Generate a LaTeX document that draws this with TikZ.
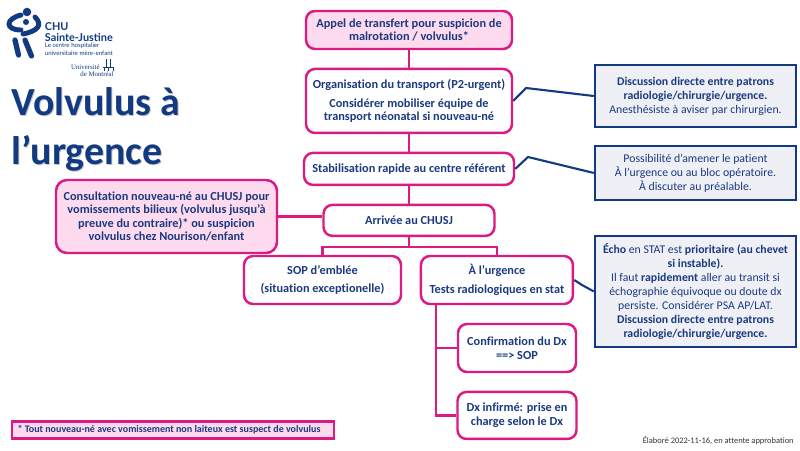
\documentclass[tikz,border=0pt]{standalone}
\usepackage{fontspec}
\setmainfont[Ligatures=NoCommon]{Carlito}
\newfontfamily\logofont{Lato}
\newfontfamily\udemfont{Liberation Serif}
\usetikzlibrary{positioning}
\definecolor{chupink}{HTML}{DC1A82}
\definecolor{chufill}{HTML}{FDDAEE}
\definecolor{chunavy}{HTML}{123A82}
\definecolor{chutext}{HTML}{1B3A80}
\definecolor{chugrey}{HTML}{EEF0F5}
\begin{document}
\begin{tikzpicture}[
    node distance=0.35cm,
    flow/.style={draw=chupink, line width=1.4pt, rounded corners=0.18cm, fill=white, align=center, inner sep=1pt, text=chutext, font=\fontsize{7}{7.7}\selectfont\bfseries},
    flowpink/.style={flow, fill=chufill},
    note/.style={draw=chunavy, line width=1.4pt, fill=chugrey, align=center, inner sep=1pt, minimum width=4.02cm, text=chutext, font=\fontsize{6.7}{8}\selectfont},
    link/.style={draw=chupink, line width=1.4pt},
    notelink/.style={draw=chunavy, line width=1.2pt},
    title/.style={anchor=west, inner sep=0pt, font=\fontsize{22.7}{22.7}\selectfont\bfseries},
    logotext/.style={anchor=west, inner sep=0pt, text=chunavy}]
\useasboundingbox (0,0) rectangle (16,9);
% logo
\fill[chunavy] (0.54,8.76) circle (0.085);
\fill[chunavy] (0.52,8.56) circle (0.06);
\draw[chunavy, line width=2.8pt, line cap=round] (0.42,8.70) .. controls (0.10,8.62) and (0.10,8.40) .. (0.42,8.40);
\draw[chunavy, line width=2.8pt, line cap=round] (0.70,8.66) .. controls (0.86,8.50) and (0.76,8.38) .. (0.46,8.32);
\draw[chunavy, line width=3pt, line cap=round] (0.30,8.20) -- (0.37,7.90);
\draw[chunavy, line width=3pt, line cap=round] (0.50,8.20) -- (0.63,7.88);
\node[logotext, font=\logofont\fontsize{6.2}{6.2}\selectfont\bfseries] (chu) at (0.89,8.46) {CHU};
\node[logotext, font=\logofont\fontsize{6.2}{6.2}\selectfont\bfseries] (sainte) at (0.89,8.26) {Sainte-Justine};
\node[logotext, font=\logofont\fontsize{3.5}{4.3}\selectfont, align=left] (centre) at (0.89,8.02) {Le centre hospitalier\\universitaire mère-enfant};
\node[logotext, font=\udemfont\fontsize{3.9}{4}\selectfont, align=right, anchor=east] (udem) at (2.28,7.59) {Université\hspace*{0.28cm}\\de Montréal};
\draw[chunavy, line width=0.5pt] (2.12,7.66) -- (2.12,7.82) (2.20,7.66) -- (2.20,7.82) (2.06,7.66) -- (2.27,7.66) (2.08,7.66) -- (2.08,7.58) (2.17,7.66) -- (2.17,7.58) (2.26,7.66) -- (2.26,7.58);
% title
\node[title, text=gray!45] (titleshadow) at (0.24,6.95) {Volvulus à};
\node[title, text=gray!45] (titleshadowb) at (0.24,5.92) {l’urgence};
\node[title, text=chunavy] (titlea) at (0.22,6.97) {Volvulus à};
\node[title, text=chunavy] (titleb) at (0.22,5.94) {l’urgence};
% flow
\node[flowpink, minimum width=4.12cm, minimum height=0.76cm] (call) at (8.18,8.4) {Appel de transfert pour suspicion de\\malrotation / volvulus*};
\node[flow, minimum width=4.12cm, minimum height=1.28cm, below=of call] (org) {Organisation du transport (P2-urgent)\\[3pt]Considérer mobiliser équipe de\\transport néonatal si nouveau-né};
\node[flow, minimum width=4.2cm, minimum height=0.64cm, below=of org] (stab) {Stabilisation rapide au centre référent};
\node[flow, minimum width=3.42cm, minimum height=0.62cm, below=of stab] (arrive) {Arrivée au CHUSJ};
\node[flowpink, minimum width=4.42cm, minimum height=1.46cm, rounded corners=0.22cm] (consult) at (3.33,4.67) {Consultation nouveau-né au CHUSJ pour\\vomissements bilieux (volvulus jusqu’à\\preuve du contraire)* ou suspicion\\volvulus chez Nourison/enfant};
\node[flow, minimum width=3.14cm, minimum height=0.96cm] (sop) at (6.45,3.4) {SOP d'emblée\\[3pt](situation exceptionelle)};
\node[flow, minimum width=3.04cm, minimum height=0.96cm, right=of sop] (urg) {À l’urgence\\[3pt]Tests radiologiques en stat};
\node[flow, minimum width=2.36cm, minimum height=0.96cm] (confirm) at (10.34,2.04) {Confirmation du Dx\\==> SOP};
\node[flow, minimum width=2.38cm, minimum height=0.94cm, below=of confirm] (dx) {Dx infirmé: prise en\\charge selon le Dx};
% notes
\node[note, minimum height=1.24cm] (patrons) at (13.91,7.08) {\textbf{Discussion directe entre patrons}\\\textbf{radiologie/chirurgie/urgence.}\\Anesthésiste à aviser par chirurgien.};
\node[note, minimum height=1.08cm, below=0.33cm of patrons] (amener) {Possibilité d’amener le patient\\À l’urgence ou au bloc opératoire.\\À discuter au préalable.};
\node[note, minimum height=2.22cm, below=0.67cm of amener] (echo) {\textbf{Écho} en STAT est \textbf{prioritaire (au chevet}\\\textbf{si instable).}\\Il faut \textbf{rapidement} aller au transit si\\échographie équivoque ou doute dx\\persiste. Considérer PSA AP/LAT.\\\textbf{Discussion directe entre patrons}\\\textbf{radiologie/chirurgie/urgence.}};
\node[flowpink, rounded corners=0pt, line width=1.2pt, minimum width=6.44cm, minimum height=0.34cm, font=\fontsize{5.7}{7}\selectfont\bfseries] (star) at (3.46,0.4) {* Tout nouveau-né avec vomissement non laiteux est suspect de volvulus\hspace*{0.16cm}};
\node[anchor=east, inner sep=0pt, text=black!80, font=\fontsize{4.8}{6}\selectfont] (date) at (15.88,0.18) {Élaboré 2022-11-16, en attente approbation};
% connectors
\coordinate (kinkorg) at (10.52,7.24);
\coordinate (kinkstab) at (10.56,5.86);
\coordinate (kinkurg) at (11.64,3.3);
\coordinate (urgdown) at (8.72,2.92);
\draw[link] (call) -- (org);
\draw[link] (org) -- (stab);
\draw[link] (stab) -- (arrive);
\draw[link] (consult.east) -- (consult.east -| arrive.west);
\draw[link] (arrive.south) -- ++(0,-0.2) -| (sop.north);
\draw[link] (arrive.south) -- ++(0,-0.2) -| (urg.north);
\draw[link] (urgdown) |- (confirm.west);
\draw[link] (urgdown) |- (dx.west);
\draw[notelink] (org.east) -- (kinkorg) -- (patrons.west);
\draw[notelink] (stab.east) -- (kinkstab) -- (amener.west);
\draw[notelink] (urg.east) -- (kinkurg) -- (echo.west);
\end{tikzpicture}
\end{document}
